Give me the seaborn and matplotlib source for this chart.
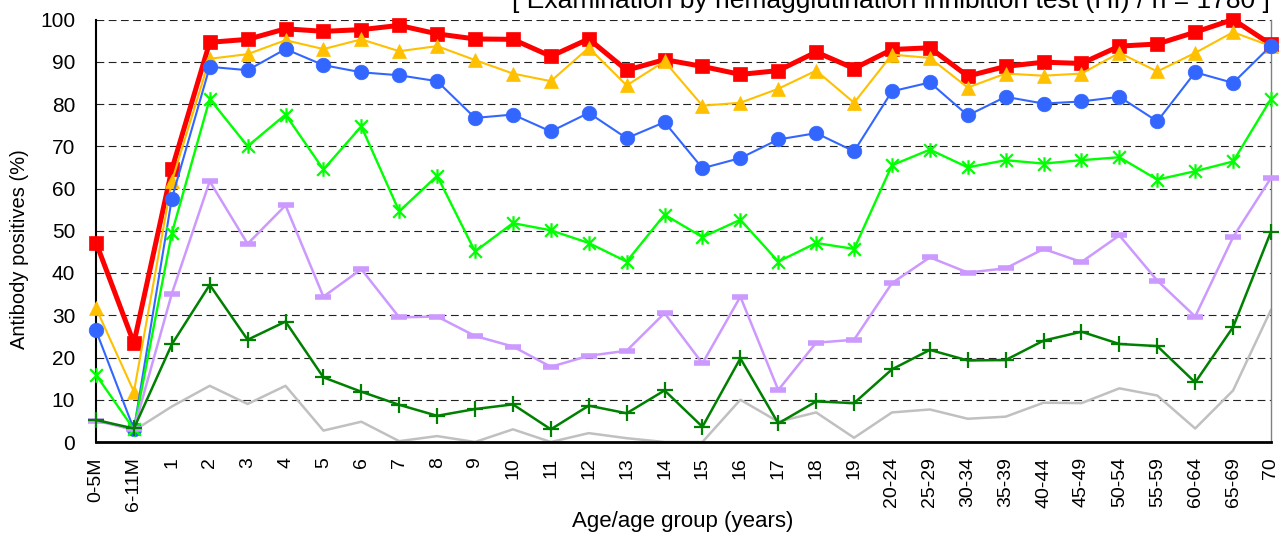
import numpy as np
import pandas as pd
import matplotlib
matplotlib.use("Agg")
import matplotlib.pyplot as plt
from matplotlib.path import Path
import seaborn as sns

categories = ["0-5M", "6-11M", "1", "2", "3", "4", "5", "6", "7", "8", "9", "10",
              "11", "12", "13", "14", "15", "16", "17", "18", "19",
              "20-24", "25-29", "30-34", "35-39", "40-44", "45-49", "50-54",
              "55-59", "60-64", "65-69", "70"]

red = [47.2, 23.4, 64.5, 94.6, 95.3, 97.8, 97.2, 97.6, 98.6, 96.6, 95.4, 95.3,
       91.3, 95.4, 88.0, 90.5, 88.9, 87.0, 87.9, 92.3, 88.4, 92.9, 93.3, 86.6,
       88.9, 89.9, 89.6, 93.7, 94.2, 97.0, 100.0, 94.1]
yellow = [31.7, 11.9, 61.7, 90.7, 91.8, 95.1, 93.0, 95.3, 92.5, 93.7, 90.4, 87.2,
          85.4, 93.3, 84.4, 90.1, 79.6, 80.3, 83.6, 87.9, 80.3, 91.7, 90.9, 83.9,
          87.2, 86.7, 87.2, 92.1, 87.7, 92.1, 97.0, 93.7]
blue = [26.4, 3.0, 57.6, 88.8, 88.0, 93.0, 89.2, 87.5, 86.8, 85.4, 76.7, 77.5,
        73.5, 77.9, 71.9, 75.7, 64.8, 67.2, 71.6, 73.1, 68.8, 83.0, 85.1, 77.3,
        81.7, 80.1, 80.6, 81.7, 75.9, 87.5, 85.0, 93.8]
green = [15.9, 3.0, 49.4, 81.2, 70.0, 77.5, 64.5, 74.7, 54.6, 63.0, 45.1, 51.8,
         50.1, 47.1, 42.7, 53.8, 48.5, 52.6, 42.7, 47.1, 45.7, 65.5, 69.2, 65.0,
         66.7, 65.9, 66.7, 67.4, 62.1, 64.1, 66.4, 81.2]
lavender = [5.0, 3.0, 35.1, 61.7, 46.9, 56.0, 34.4, 40.9, 29.5, 29.7, 25.1, 22.6,
            17.8, 20.4, 21.6, 30.5, 18.6, 34.4, 12.3, 23.5, 24.2, 37.6, 43.7, 40.1,
            41.1, 45.7, 42.6, 48.9, 38.2, 29.7, 48.5, 62.5]
darkgreen = [5.2, 3.2, 23.1, 37.2, 24.2, 28.5, 15.3, 11.9, 8.8, 6.2, 7.8, 8.9,
             3.0, 8.6, 6.8, 12.2, 3.6, 19.8, 4.4, 9.6, 9.2, 17.2, 21.8, 19.3,
             19.4, 24.0, 26.1, 23.2, 22.7, 14.1, 27.2, 49.8]
gray = [5.4, 2.7, 8.4, 13.3, 9.0, 13.3, 2.7, 4.8, 0.2, 1.4, 0.0, 3.0,
        0.0, 2.1, 0.9, 0.0, 0.0, 10.0, 4.8, 7.0, 1.0, 7.0, 7.7, 5.5,
        6.0, 9.3, 9.2, 12.7, 11.0, 3.2, 12.2, 31.3]

title = "[ Examination by hemagglutination inhibition test (HI) / n = 1780 ]"
xlabel = "Age/age group (years)"
ylabel = "Antibody positives (%)"

sns.set_theme(style="white")
plt.rcParams['font.family'] = ['Liberation Sans', 'DejaVu Sans']

fig = plt.figure(figsize=(12.82, 5.38), dpi=100)
ax = fig.add_axes([96 / 1282, 1 - 442 / 538, (1271 - 96) / 1282, (442 - 19.5) / 538])

x = np.arange(len(categories))

star = Path([(-1, -1), (1, 1), (-1, 1), (1, -1), (0, -1.15), (0, 1.15)],
            [Path.MOVETO, Path.LINETO, Path.MOVETO, Path.LINETO, Path.MOVETO, Path.LINETO])

series = [
    (gray, "#C0C0C0", 1.8, None, 0, 0, 2),
    (red, "#FF0000", 3.6, "s", 9.6, 0.5, 3),
    (yellow, "#FFC000", 1.5, "^", 10.5, 0.5, 4),
    (blue, "#3366FF", 1.5, "o", 10.5, 0.5, 5),
    (green, "#00FF00", 1.7, star, 10.5, 1.6, 6),
    (lavender, "#CC99FF", 1.8, "_", 11.5, 4.0, 7),
    (darkgreen, "#008000", 1.8, "+", 11, 1.6, 8),
]

for vals, col, lw, mk, ms, mew, z in series:
    kw = dict(color=col, linewidth=lw, clip_on=False, zorder=z, ax=ax)
    if mk is not None:
        kw.update(marker=mk, markersize=ms, markeredgecolor=col,
                  markerfacecolor=col, markeredgewidth=mew)
    sns.lineplot(x=x, y=vals, **kw)

ax.set_xlim(0, len(categories) - 1)
ax.set_ylim(0, 100)
ax.set_yticks(np.arange(0, 101, 10))
ax.set_xticks(x)
ax.set_xticklabels(categories)
ax.set_xlabel("")
ax.set_ylabel("")

ax.yaxis.grid(True, color="#222222", linestyle=(0, (7, 4)), linewidth=0.8)
ax.xaxis.grid(False)
ax.set_axisbelow(True)

for s in ["left", "bottom"]:
    ax.spines[s].set_color("black")
ax.spines["left"].set_linewidth(1.5)
ax.spines["bottom"].set_linewidth(2.0)
ax.spines["right"].set_color("#808080")
ax.spines["right"].set_linewidth(1.0)
ax.spines["top"].set_visible(False)

ax.tick_params(axis="y", length=0, pad=15, labelsize=15, colors="black")
ax.tick_params(axis="x", length=0, pad=11, labelsize=14, labelrotation=90, colors="black")

fig.text(1270 / 1282, 1 - 8 / 538, title, ha="right", va="baseline", fontsize=19, color="black")
fig.text(683 / 1282, 1 - 521 / 538, xlabel, ha="center", va="center", fontsize=16, color="black")
fig.text(20 / 1282, 1 - 249 / 538, ylabel, ha="center", va="center", rotation=90,
         fontsize=14.5, color="black")

fig.savefig("out.png", dpi=100)
